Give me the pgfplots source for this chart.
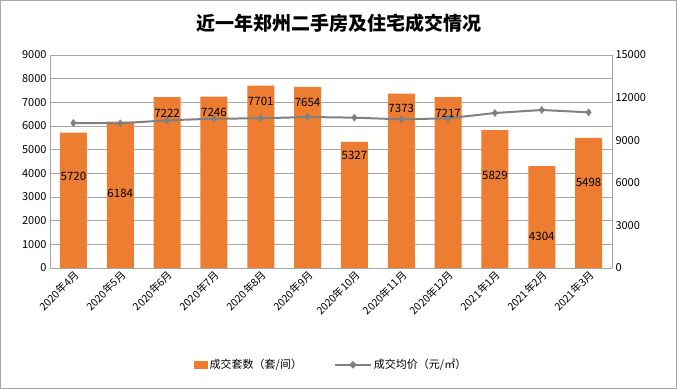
\documentclass[border=0pt]{standalone}
\usepackage{pgfplots}
\pgfplotsset{compat=1.18}
\usepackage{fontspec}
\setmainfont{Noto Sans CJK SC}
\definecolor{barorange}{HTML}{ED7D31}
\definecolor{linegray}{HTML}{808080}
\definecolor{gridgray}{HTML}{A6A6A6}
\begin{document}
\begin{tikzpicture}
\draw[gridgray,line width=1bp] (0.5bp,0.5bp) rectangle (676.5bp,388.5bp);
\node[font=\fontsize{19bp}{22bp}\selectfont\bfseries] at (338.5bp,366bp) {近一年郑州二手房及住宅成交情况};
\begin{axis}[
  at={(50bp,121bp)}, anchor=south west,
  scale only axis, width=562bp, height=213bp,
  xmin=-0.5, xmax=11.5, ymin=0, ymax=9000,
  ytick={0,1000,...,9000},
  xtick={0,...,11},
  xticklabels={2020年4月,2020年5月,2020年6月,2020年7月,2020年8月,2020年9月,2020年10月,2020年11月,2020年12月,2021年1月,2021年2月,2021年3月},
  x tick label style={rotate=45, anchor=north east, font=\fontsize{10.5bp}{12bp}\selectfont, inner sep=1bp},
  y tick label style={font=\fontsize{11bp}{12bp}\selectfont},
  scaled y ticks=false,
  /pgf/number format/assume math mode=true,
  /pgf/number format/1000 sep={},
  axis y line*=left, axis x line*=bottom,
  axis line style={gridgray},
  major tick length=0pt,
  ymajorgrids, grid style={gridgray, line width=0.6bp},
  legend style={at={(0.5,-0.455)}, anchor=center, draw=none, legend columns=2,
     font=\fontsize{11bp}{12bp}\selectfont, /tikz/every even column/.append style={column sep=30bp}},
  legend image code/.code={\fill[barorange] (0bp,-4bp) rectangle (14bp,4bp);},
]
\addplot[ybar, bar width=27bp, fill=barorange, draw=none] coordinates {
(0,5720) (1,6184) (2,7222) (3,7246) (4,7701) (5,7654) (6,5327) (7,7373) (8,7217) (9,5829) (10,4304) (11,5498)};
\addlegendentry{成交套数（套/间）}
\addlegendimage{legend image code/.code={\draw[linegray,line width=2bp] (0bp,0bp) -- (36bp,0bp); \fill[linegray] (18bp,3.5bp) -- (21.5bp,0bp) -- (18bp,-3.5bp) -- (14.5bp,0bp) -- cycle;}}
\addlegendentry{成交均价（元/㎡）}
\addplot[draw=none, mark=none, nodes near coords, point meta=explicit symbolic,
  nodes near coords style={font=\fontsize{11.5bp}{12bp}\selectfont, anchor=center, inner sep=0pt}] coordinates {
(0,3887)[5720] (1,3169)[6184] (2,6549)[7222] (3,6592)[7246] (4,7056)[7701] (5,7014)[7654]
(6,4775)[5327] (7,6761)[7373] (8,6549)[7217] (9,3930)[5829] (10,1352)[4304] (11,3634)[5498]};
\end{axis}
\begin{axis}[
  at={(50bp,121bp)}, anchor=south west,
  scale only axis, width=562bp, height=213bp,
  xmin=-0.5, xmax=11.5, ymin=0, ymax=15000,
  ytick={0,3000,...,15000},
  y tick label style={font=\fontsize{11bp}{12bp}\selectfont},
  scaled y ticks=false,
  /pgf/number format/assume math mode=true,
  /pgf/number format/1000 sep={},
  axis y line*=right, axis x line=none,
  axis line style={gridgray},
  major tick length=0pt,
]
\addplot[linegray, line width=2bp, mark=diamond*, mark size=3.5bp, mark options={fill=linegray, draw=linegray, line width=0.5bp}] coordinates {
(0,10211) (1,10190) (2,10400) (3,10515) (4,10540) (5,10634) (6,10587) (7,10469) (8,10540) (9,10915) (10,11127) (11,10962)};
\end{axis}
\end{tikzpicture}
\end{document}
